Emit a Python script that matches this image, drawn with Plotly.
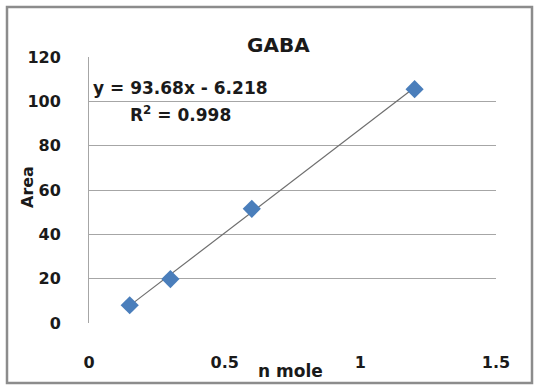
import numpy as np
import plotly.graph_objects as go

# Data
x_nmole = [0.15, 0.30, 0.60, 1.20]
y_area = [8.0, 19.8, 51.5, 105.5]
slope = 93.68
intercept = -6.218
r_squared = 0.998
x_ticks = [0, 0.5, 1, 1.5]
x_tick_text = ["0", "0.5", "1", "1.5"]
y_ticks = [0, 20, 40, 60, 80, 100, 120]

FONT = "DejaVu Sans"
TXT = "#1a1a1a"

fit_x = np.array([min(x_nmole), max(x_nmole)])
fit_y = slope * fit_x + intercept

fig = go.Figure()
fig.add_trace(go.Scatter(x=fit_x, y=fit_y, mode="lines",
                         line=dict(color="#6e6e6e", width=1.2), showlegend=False))
fig.add_trace(go.Scatter(x=x_nmole, y=y_area, mode="markers",
                         marker=dict(symbol="diamond", size=14, color="#4a7ebb",
                                     line=dict(width=0)), showlegend=False))

L, R, T, B = 89, 496, 57, 323
W, H = 538, 386

def px(xp):
    return (xp - L) / (R - L)

def py(yp):
    return (B - yp) / (B - T)

def ann(text, xp, yp, size, angle=0, family=FONT):
    return dict(text=text, x=px(xp), y=py(yp), xref="paper", yref="paper",
                xanchor="center", yanchor="middle", showarrow=False,
                textangle=angle,
                font=dict(size=size, weight="bold", family=family, color=TXT))

fig.update_layout(
    width=W, height=H,
    margin=dict(l=L, r=W - R, t=T, b=H - B),
    paper_bgcolor="white", plot_bgcolor="white",
    font=dict(family=FONT, size=15, color=TXT, weight="bold"),
    xaxis=dict(range=[0, 1.5], tickvals=x_ticks, ticktext=x_tick_text,
               showgrid=False, zeroline=False, showline=False, ticks="",
               ticklabelstandoff=28, tickfont=dict(size=16, weight="bold")),
    yaxis=dict(range=[0, 120], tickvals=y_ticks, showgrid=True,
               gridcolor="#a6a6a6", gridwidth=1, zeroline=False,
               showline=True, linecolor="#a6a6a6", linewidth=1, ticks="",
               ticklabelstandoff=24, tickfont=dict(size=16, weight="bold")),
    shapes=[dict(type="rect", xref="paper", yref="paper",
                 x0=px(7), x1=px(532), y0=py(383), y1=py(7),
                 line=dict(color="#8c8c8c", width=2.5), layer="below")],
    annotations=[
        ann("GABA", 278, 45, 20),
        ann(f"y = {slope}x - {abs(intercept)}", 180, 88, 17),
        ann(f"R<sup>2</sup> = {r_squared}", 180, 114, 17),
        ann("n mole", 290, 371, 17),
        dict(text="<b>Area</b>", x=px(27), y=py(187), xref="paper", yref="paper",
             xanchor="center", yanchor="middle", showarrow=False, textangle=-90,
             font=dict(size=16, family=FONT, color=TXT)),
    ],
)

fig.write_html("out.html")
